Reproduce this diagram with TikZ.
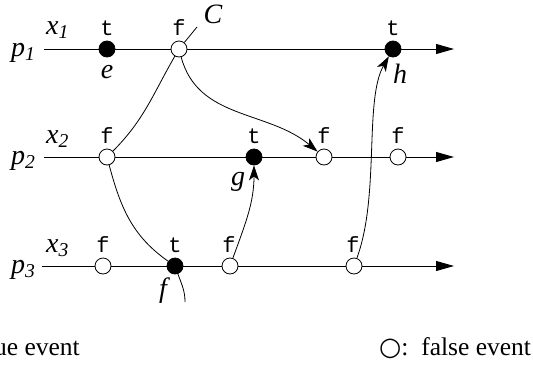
\documentclass[tikz,border=0pt]{standalone}
\usepackage{fontspec}
\setmainfont{Liberation Serif}
\setmonofont{Liberation Mono}
\newfontfamily\symfont{DejaVu Sans}
\usetikzlibrary{arrows.meta}
\begin{document}
\begin{tikzpicture}[x=1pt,y=-1pt,
  axis/.style={line width=0.9pt,-{Triangle[length=18pt,width=10pt]}},
  msg/.style={line width=0.8pt,-{Stealth[length=15pt,width=10pt,inset=4pt]}},
  link/.style={line width=0.8pt},
  tev/.style={circle,fill=black,draw=black,line width=0.8pt,inner sep=0pt,minimum size=16pt},
  fev/.style={circle,fill=white,draw=black,line width=0.8pt,inner sep=0pt,minimum size=16pt},
  val/.style={font=\fontsize{22}{24}\selectfont\ttfamily,anchor=base,inner sep=0pt},
  lab/.style={font=\fontsize{28}{30}\selectfont\itshape,inner sep=0pt},
  txt/.style={font=\fontsize{25.5}{28}\selectfont,inner sep=0pt},
]
\useasboundingbox (0,0) rectangle (533,365);
\clip (0,0) rectangle (533,365);
% axes
\coordinate (s1) at (44,49);  \coordinate (t1) at (454,49);
\coordinate (s2) at (44,157); \coordinate (t2) at (454,157);
\coordinate (s3) at (42,266); \coordinate (t3) at (454,266);
\draw[axis] (s1) -- (t1);
\draw[axis] (s2) -- (t2);
\draw[axis] (s3) -- (t3);
% process and variable labels
\node[lab,anchor=base west] (P1) at (11,56) {p\textsubscript{1}};
\node[lab,anchor=base west] (X1) at (46,34) {x\textsubscript{1}};
\node[lab,anchor=base west] (P2) at (11,164) {p\textsubscript{2}};
\node[lab,anchor=base west] (X2) at (46,143) {x\textsubscript{2}};
\node[lab,anchor=base west] (P3) at (11,273) {p\textsubscript{3}};
\node[lab,anchor=base west] (X3) at (46,252) {x\textsubscript{3}};
% events
\node[tev] (e)  at (107,49) {};
\node[fev] (c1) at (179,49) {};
\node[tev] (h)  at (393,49) {};
\node[fev] (a2) at (107,157) {};
\node[tev] (g)  at (254,157) {};
\node[fev] (b2) at (324,157) {};
\node[fev] (d2) at (398,157) {};
\node[fev] (a3) at (103,266) {};
\node[tev] (f)  at (175,266) {};
\node[fev] (b3) at (230,266) {};
\node[fev] (c3) at (354,266) {};
% values
\node[val] (ve)  at (107,35) {t};
\node[val] (vc1) at (179,35) {f};
\node[val] (vh)  at (393,35) {t};
\node[val] (va2) at (107,143) {f};
\node[val] (vg)  at (254,143) {t};
\node[val] (vb2) at (324,143) {f};
\node[val] (vd2) at (398,143) {f};
\node[val] (va3) at (103,252) {f};
\node[val] (vf)  at (175,252) {t};
\node[val] (vb3) at (229,252) {f};
\node[val] (vc3) at (353,252) {f};
% event names
\node[lab,anchor=base] (le) at (107,78) {e};
\node[lab,anchor=base] (lg) at (238,185) {g};
\node[lab,anchor=base] (lh) at (400,83) {h};
\node[lab,anchor=base] (lf) at (163,297) {f};
\node[lab,anchor=base] (lC) at (213,23) {C};
% cut C
\coordinate (cend) at (197,27);
\draw[link] (c1) -- (cend);
\draw[link] (a2) to[out=45,in=-120] (c1);
\draw[link] (a2) to[out=-75,in=145] (f);
\coordinate (ftail) at (185,302);
\draw[link] (f) to[out=-70,in=90] (ftail);
% messages
\draw[msg] (c1) to[out=-75,in=140] (b2);
\draw[msg] (b3) to[out=70,in=-90] (g);
\draw[msg] (c3) .. controls (380,195) and (364,100) .. (h);
% legend
\node[txt,anchor=base east] (lt) at (80,355) {{\symfont ●}:\ \ true event};
\node[txt,anchor=base west] (lfv) at (379,355) {{\symfont ○}:\ \ false event};
\end{tikzpicture}
\end{document}
